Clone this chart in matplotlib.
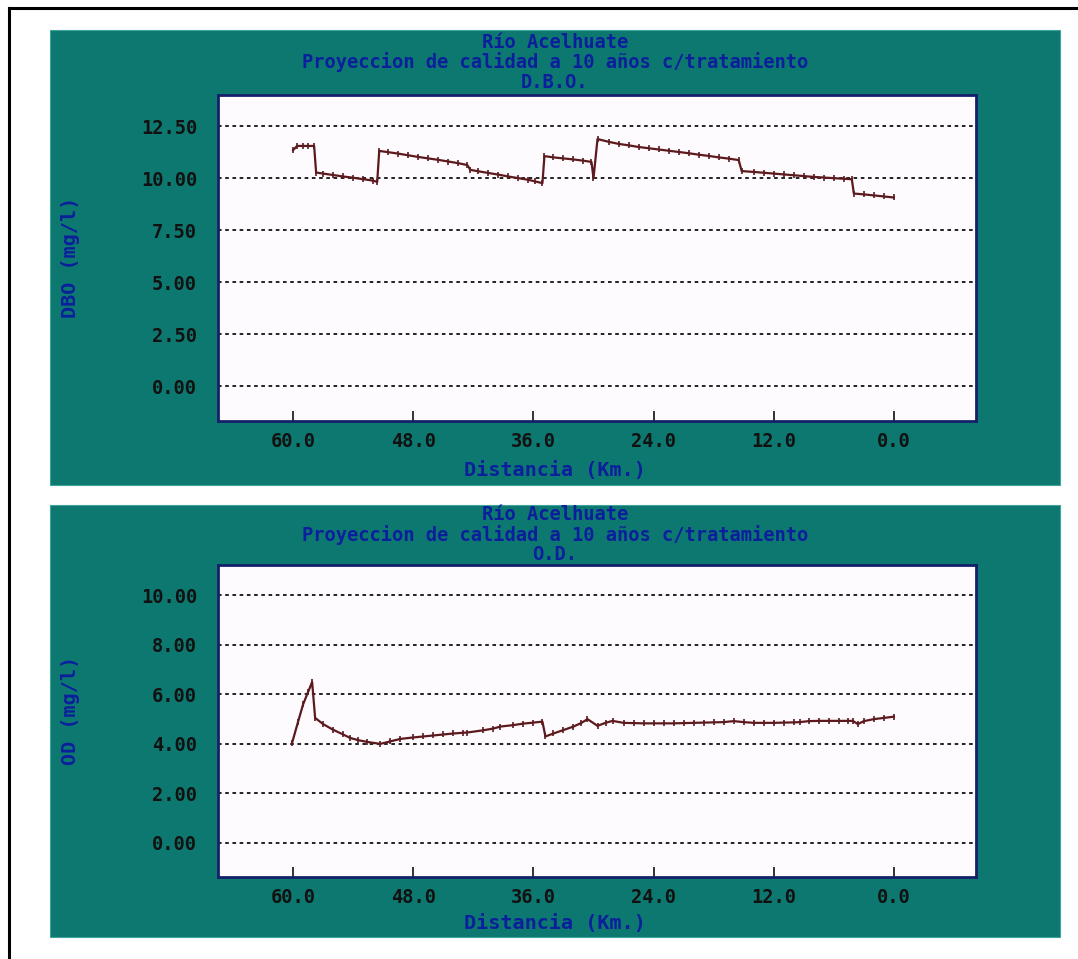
import matplotlib
matplotlib.use("Agg")
import matplotlib.pyplot as plt
from matplotlib.patches import Rectangle
from matplotlib.lines import Line2D

# ---------------- data ----------------
title_river = "Río Acelhuate"
title_proj = "Proyeccion de calidad a 10 años c/tratamiento"
xlabel = "Distancia (Km.)"

dbo_km = [60.0, 59.6, 59.0, 58.5, 57.9, 57.7, 57.0, 56.0, 55.0, 54.0, 53.0, 52.0, 51.6,
          51.4, 50.5, 49.5, 48.5, 47.5, 46.5, 45.5, 44.5, 43.5, 42.6,
          42.3, 41.5, 40.5, 39.5, 38.5, 37.5, 36.5, 35.8, 35.1,
          34.9, 34.0, 33.0, 32.0, 31.0, 30.2, 30.0,
          29.6, 28.5, 27.5, 26.5, 25.5, 24.5, 23.5, 22.5, 21.5, 20.5, 19.5, 18.5, 17.5, 16.5, 15.5,
          15.2, 14.0, 13.0, 12.0, 11.0, 10.0, 9.0, 8.0, 7.0, 6.0, 5.0, 4.2,
          4.0, 3.0, 2.0, 1.0, 0.0]
dbo_val = [11.35, 11.55, 11.55, 11.55, 11.55, 10.27, 10.22, 10.15, 10.08, 10.02, 9.95, 9.88, 9.82,
           11.31, 11.25, 11.18, 11.10, 11.02, 10.95, 10.88, 10.80, 10.72, 10.63,
           10.40, 10.33, 10.25, 10.17, 10.08, 10.00, 9.92, 9.84, 9.76,
           11.06, 11.00, 10.95, 10.90, 10.84, 10.78, 10.00,
           11.88, 11.75, 11.65, 11.58, 11.50, 11.44, 11.38, 11.32, 11.26, 11.20, 11.13, 11.07, 11.00, 10.94, 10.87,
           10.34, 10.30, 10.26, 10.22, 10.18, 10.14, 10.10, 10.06, 10.03, 10.00, 9.97, 9.95,
           9.26, 9.22, 9.17, 9.12, 9.07]

od_km = [60.1, 59.5, 59.0, 58.5, 58.1, 57.8, 57.0, 56.0, 55.0, 54.3, 53.5, 52.6, 51.3,
         50.3, 49.3, 48.0, 47.0, 46.0, 45.0, 44.0, 43.0, 42.6, 41.0, 40.0, 39.3, 38.0, 37.0, 36.0, 35.1,
         34.8, 34.0, 33.0, 32.0, 31.2, 30.6, 29.6, 28.8, 28.1,
         27.0, 26.0, 25.0, 24.0, 23.0, 22.0, 21.0, 20.0, 19.0, 18.0, 17.0, 16.0, 15.0, 14.0,
         13.0, 12.0, 11.0, 10.0, 9.4, 8.5, 7.5, 6.5, 5.5, 4.6, 4.1, 3.6, 3.0, 2.0, 1.0, 0.0]
od_val = [4.04, 4.9, 5.6, 6.1, 6.50, 5.05, 4.80, 4.57, 4.38, 4.24, 4.15, 4.08, 4.00,
          4.10, 4.20, 4.26, 4.30, 4.34, 4.38, 4.42, 4.45, 4.46, 4.55, 4.62, 4.70, 4.76, 4.82, 4.86, 4.90,
          4.30, 4.42, 4.56, 4.70, 4.85, 5.00, 4.73, 4.85, 4.93,
          4.85, 4.84, 4.83, 4.83, 4.83, 4.83, 4.84, 4.85, 4.86, 4.87, 4.88, 4.92, 4.88, 4.85,
          4.85, 4.85, 4.86, 4.87, 4.88, 4.92, 4.93, 4.93, 4.93, 4.93, 4.93, 4.80, 4.92, 5.00, 5.05, 5.10]

x_ticks = [60, 48, 36, 24, 12, 0]
x_ticklabels = ["60.0", "48.0", "36.0", "24.0", "12.0", "0.0"]
dbo_yticks = [0.0, 2.5, 5.0, 7.5, 10.0, 12.5]
dbo_yticklabels = ["0.00", "2.50", "5.00", "7.50", "10.00", "12.50"]
od_yticks = [0, 2, 4, 6, 8, 10]
od_yticklabels = ["0.00", "2.00", "4.00", "6.00", "8.00", "10.00"]

# ---------------- style ----------------
W, H = 1078, 959
TEAL = "#0d7870"
BLUE = "#0b1f9c"
LINE = "#5c1a1e"
FONT = "DejaVu Sans Mono"
HFS = 13.5   # title font size
TFS = 14.5   # axis label font size
KFS = 13.5   # tick label font size

fig = plt.figure(figsize=(W / 100, H / 100), dpi=100)
fig.patch.set_facecolor("white")

def fx(px):
    return px / W

def fy(py):
    return 1 - py / H

# outer black border (top + left visible)
fig.add_artist(Line2D([fx(9), 1.0], [fy(8), fy(8)], color="black", lw=2.2))
fig.add_artist(Line2D([fx(9), fx(9)], [fy(8), 0.0], color="black", lw=2.2))

# teal panels
fig.add_artist(Rectangle((fx(50), fy(485)), fx(1060) - fx(50), fy(30) - fy(485),
                         facecolor=TEAL, edgecolor="#3fa39a", lw=0.8, zorder=0))
fig.add_artist(Rectangle((fx(50), fy(937)), fx(1060) - fx(50), fy(505) - fy(937),
                         facecolor=TEAL, edgecolor="#3fa39a", lw=0.8, zorder=0))


def make_panel(ax_box, km, vals, yticks, yticklabels, ylim, ylabel,
               title_y, sub, xlabel_y, ylabel_y):
    l, t, r, b = ax_box
    ax = fig.add_axes([fx(l), fy(b), fx(r) - fx(l), fy(t) - fy(b)])
    ax.set_facecolor("#fdfbfd")
    ax.set_xlim(67.5, -8.2)
    ax.set_ylim(*ylim)
    for yv in yticks:
        ax.axhline(yv, color="#111111", lw=1.3, ls=(0, (2, 2)), zorder=1)
    ax.plot(km, vals, color=LINE, lw=1.6, marker="|", ms=4, mew=1.2, zorder=3)
    ax.set_xticks(x_ticks)
    ax.set_xticklabels(x_ticklabels)
    ax.set_yticks(yticks)
    ax.set_yticklabels(yticklabels)
    ax.tick_params(axis="x", direction="in", length=7, width=1.3, color="#222222",
                   pad=8, labelsize=KFS, labelcolor="#111111")
    ax.tick_params(axis="y", length=0, pad=15, labelsize=KFS, labelcolor="#111111")
    for lab in ax.get_xticklabels() + ax.get_yticklabels():
        lab.set_fontfamily(FONT)
        lab.set_fontweight("bold")
    for sp in ax.spines.values():
        sp.set_color("#14206b")
        sp.set_linewidth(2)
    cx = fx(555)
    fig.text(cx, fy(title_y), title_river, ha="center", va="center",
             color=BLUE, fontsize=HFS, family=FONT, fontweight="bold")
    fig.text(cx, fy(title_y + 20), title_proj, ha="center", va="center",
             color=BLUE, fontsize=HFS, family=FONT, fontweight="bold")
    fig.text(cx, fy(title_y + 40), sub, ha="center", va="center",
             color=BLUE, fontsize=HFS, family=FONT, fontweight="bold")
    fig.text(cx, fy(xlabel_y), xlabel, ha="center", va="center",
             color=BLUE, fontsize=TFS, family=FONT, fontweight="bold")
    fig.text(fx(70), fy(ylabel_y), ylabel, ha="center", va="center", rotation=90,
             color=BLUE, fontsize=TFS, family=FONT, fontweight="bold")
    return ax


make_panel((218, 95, 976, 421), dbo_km, dbo_val, dbo_yticks, dbo_yticklabels,
           (-1.68, 14.0), "DBO (mg/l)", 42, "D.B.O.", 470, 257)
make_panel((218, 565, 976, 877), od_km, od_val, od_yticks, od_yticklabels,
           (-1.38, 11.23), "OD (mg/l)", 515, "O.D.", 924, 710)

fig.savefig("out.png", dpi=100, facecolor="white")
